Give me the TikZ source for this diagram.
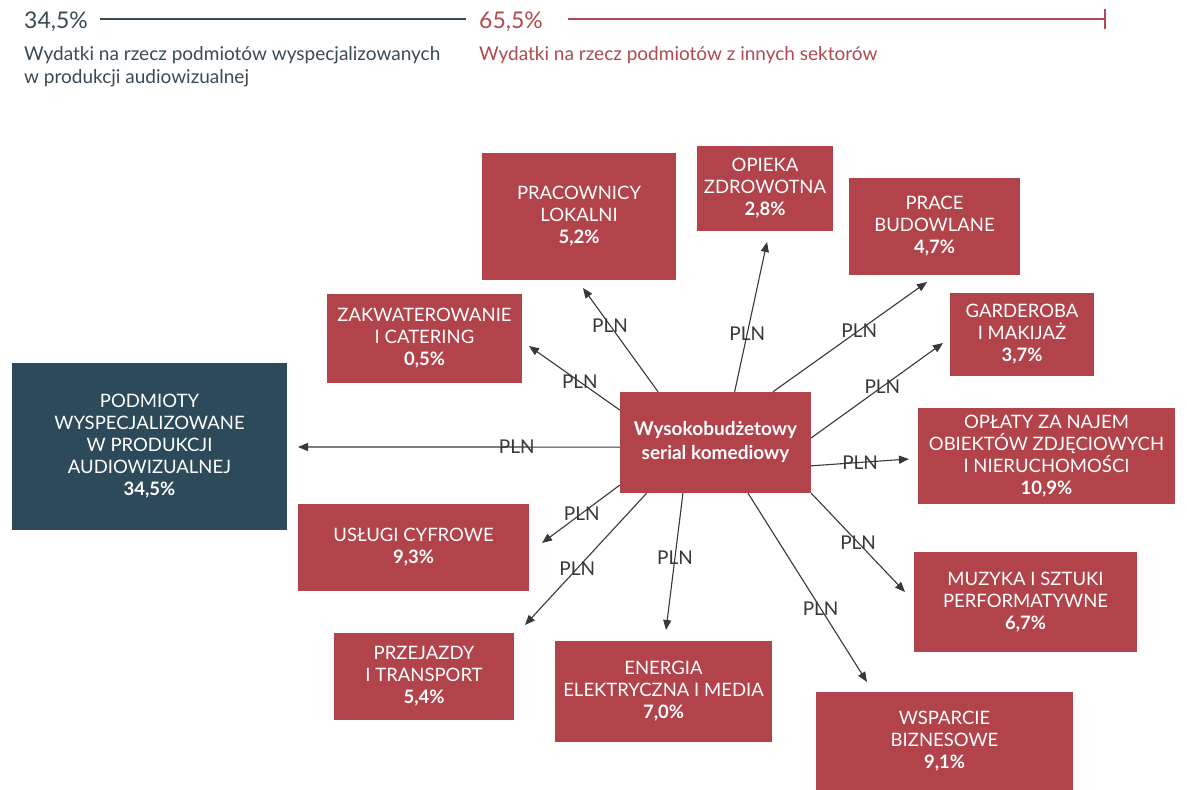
\documentclass[tikz,border=0pt]{standalone}
\usepackage{fontspec}
\setmainfont{Lato}
\usetikzlibrary{arrows.meta,calc}
\definecolor{boxred}{HTML}{B3434A}
\definecolor{boxteal}{HTML}{2D4A5A}
\definecolor{darktxt}{HTML}{3A4A55}
\definecolor{redtxt}{HTML}{B04A50}
\definecolor{arrowgray}{HTML}{383838}
\tikzset{
  rbox/.style={fill=boxred, draw=none, text=white, align=center, inner sep=0pt,
    font=\fontsize{18.5}{22}\selectfont},
  tbox/.style={rbox, fill=boxteal},
  flow/.style={draw=arrowgray, line width=1.1pt, -{Triangle[length=10pt,width=8pt]}},
  pln/.style={text=arrowgray, inner sep=0pt, font=\fontsize{19}{19}\selectfont},
  toptxt/.style={anchor=base west, inner sep=0pt, font=\fontsize{19}{23}\selectfont},
  toppct/.style={anchor=base west, inner sep=0pt, font=\fontsize{23}{23}\selectfont},
}
\begin{document}
\begin{tikzpicture}[x=1pt,y=-1pt]
\useasboundingbox (0,0) rectangle (1187,790);
\fill[white] (0,0) rectangle (1187,790);

% top bar
\node[toppct, text=darktxt] (p1) at (24,28) {34,5\%};
\node[toppct, text=redtxt] (p2) at (479,28) {65,5\%};
\coordinate (l1a) at (100,19);
\coordinate (l1b) at (466,19);
\coordinate (l2a) at (568,19);
\coordinate (l2b) at (1105,19);
\draw[darktxt, line width=2pt] (l1a) -- (l1b);
\draw[redtxt, line width=2pt] (l2a) -- (l2b);
\draw[redtxt, line width=2pt] ($(l2b)+(0,-10)$) -- ($(l2b)+(0,10)$);
\node[toptxt, text=darktxt] (t1a) at (24,60) {Wydatki na rzecz podmiotów wyspecjalizowanych};
\node[toptxt, text=darktxt] (t1b) at (24,83) {w produkcji audiowizualnej};
\node[toptxt, text=redtxt] (t2) at (479,60) {Wydatki na rzecz podmiotów z innych sektorów};

% boxes
\node[rbox, minimum width=191, minimum height=101, font=\fontsize{19}{24}\selectfont\bfseries] (c) at (715.5,442.5) {Wysokobudżetowy\\serial komediowy};
\node[tbox, minimum width=275, minimum height=167] (pod) at (149.5,446.5) {PODMIOTY\\WYSPECJALIZOWANE\\W PRODUKCJI\\AUDIOWIZUALNEJ\\\textbf{34,5\%}};
\node[rbox, minimum width=195, minimum height=89] (zak) at (424.5,338.5) {ZAKWATEROWANIE\\I CATERING\\\textbf{0,5\%}};
\node[rbox, minimum width=194, minimum height=127] (pra) at (579,216.5) {PRACOWNICY\\LOKALNI\\\textbf{5,2\%}};
\node[rbox, minimum width=136, minimum height=85] (opi) at (765,188.5) {OPIEKA\\ZDROWOTNA\\\textbf{2,8\%}};
\node[rbox, minimum width=171, minimum height=97] (bud) at (934.5,226.5) {PRACE\\BUDOWLANE\\\textbf{4,7\%}};
\node[rbox, minimum width=144, minimum height=83] (gar) at (1022,334.5) {GARDEROBA\\I MAKIJAŻ\\\textbf{3,7\%}};
\node[rbox, minimum width=257, minimum height=96] (opl) at (1046.5,456) {OPŁATY ZA NAJEM\\OBIEKTÓW ZDJĘCIOWYCH\\I NIERUCHOMOŚCI\\\textbf{10,9\%}};
\node[rbox, minimum width=223, minimum height=100] (muz) at (1025.5,602) {MUZYKA I SZTUKI\\PERFORMATYWNE\\\textbf{6,7\%}};
\node[rbox, minimum width=257, minimum height=98] (wsp) at (944.5,741) {WSPARCIE\\BIZNESOWE\\\textbf{9,1\%}};
\node[rbox, minimum width=217, minimum height=101] (ene) at (663.5,691.5) {ENERGIA\\ELEKTRYCZNA I MEDIA\\\textbf{7,0\%}};
\node[rbox, minimum width=180, minimum height=87] (prz) at (424,676.5) {PRZEJAZDY\\I TRANSPORT\\\textbf{5,4\%}};
\node[rbox, minimum width=231, minimum height=87] (usl) at (413.5,547.5) {USŁUGI CYFROWE\\\textbf{9,3\%}};

% arrow tips (free ends)
\coordinate (tpod) at (298,447);
\coordinate (tzak) at (529,346);
\coordinate (tusl) at (542,543);
\coordinate (tpra) at (583,288);
\coordinate (topi) at (767,242);
\coordinate (tbud) at (927,282);
\coordinate (tgar) at (943,343);
\coordinate (topl) at (909,459);
\coordinate (tmuz) at (905,592);
\coordinate (twsp) at (867,682);
\coordinate (tene) at (666,630);
\coordinate (tprz) at (525,625);

% arrows
\draw[flow] ($(c.north west)!0.545!(c.south west)$) -- node[pln, pos=0.32] {PLN} (tpod);
\draw[flow] ($(c.north west)!0.18!(c.south west)$) -- node[pln, pos=0.44] {PLN} (tzak);
\draw[flow] ($(c.north west)!0.92!(c.south west)$) -- node[pln, pos=0.49] {PLN} (tusl);
\draw[flow] ($(c.north west)!0.2!(c.north east)$) -- node[pln, pos=0.64] {PLN} (tpra);
\draw[flow] ($(c.north west)!0.6!(c.north east)$) -- node[pln, pos=0.39] {PLN} (topi);
\draw[flow] ($(c.north west)!0.8!(c.north east)$) -- node[pln, pos=0.56] {PLN} (tbud);
\draw[flow] ($(c.north east)!0.455!(c.south east)$) -- node[pln, pos=0.54] {PLN} (tgar);
\draw[flow] ($(c.north east)!0.73!(c.south east)$) -- node[pln, pos=0.5] {PLN} (topl);
\draw[flow] (c.south east) -- node[pln, pos=0.5] {PLN} (tmuz);
\draw[flow] ($(c.south west)!0.67!(c.south east)$) -- node[pln, pos=0.61] {PLN} (twsp);
\draw[flow] ($(c.south west)!0.33!(c.south east)$) -- node[pln, pos=0.47] {PLN} (tene);
\draw[flow] ($(c.south west)!0.14!(c.south east)$) -- node[pln, pos=0.57] {PLN} (tprz);
\end{tikzpicture}
\end{document}
